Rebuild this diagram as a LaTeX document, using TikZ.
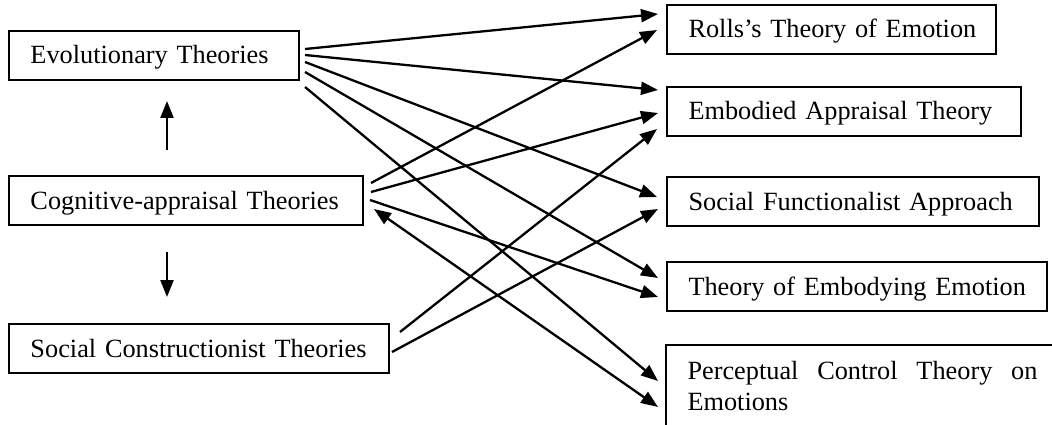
\documentclass[tikz,border=0pt]{standalone}
\usepackage{fontspec}
\setmainfont[WordSpace=0.85]{Liberation Serif}
\usetikzlibrary{arrows.meta}
\begin{document}
\begin{tikzpicture}[x=1pt,y=-1pt,
  box/.style={draw, line width=2.2pt, outer sep=0pt, inner xsep=21.5pt,
    inner ysep=0pt, minimum height=49pt, align=left, anchor=north west,
    text height=22pt, text depth=5pt,
    font=\fontsize{26.3}{31}\selectfont},
  link/.style={line width=2.3pt, -{Triangle[length=17pt,width=13pt]}},
  both/.style={line width=2.3pt, {Triangle[length=17pt,width=13pt]}-{Triangle[length=17pt,width=13pt]}}]
\useasboundingbox (0,0) rectangle (1052,425);
% theory families on the left
\node[box, text width=247pt] (evo) at (9,31) {\mbox{Evolutionary Theories}};
\node[box, text width=311pt] (cog) at (9,176) {\mbox{Cognitive-appraisal Theories}};
\node[box, text width=337pt] (soc) at (9,324) {\mbox{Social Constructionist Theories}};
% specific theories on the right
\node[box, text width=286pt] (rolls) at (667,5) {\mbox{Rolls’s Theory of Emotion}};
\node[box, text width=311pt] (emb) at (667,87) {\mbox{Embodied Appraisal Theory}};
\node[box, text width=329pt] (sf) at (667,177) {\mbox{Social Functionalist Approach}};
\node[box, text width=337pt] (tee) at (667,262) {\mbox{Theory of Embodying Emotion}};
\node[box, text width=350pt, align=justify, inner ysep=16pt, minimum height=0pt,
  text height=18pt, text depth=45pt]
  (pct) at (666,345) {Perceptual Control Theory on Emotions};
% vertical arrows between the families
\draw[link, shorten <=26pt, shorten >=21pt] (cog.north -| 167,0) -- (evo.south -| 167,0);
\draw[link, shorten <=27pt, shorten >=27pt] (cog.south -| 167,0) -- (soc.north -| 167,0);
% evolutionary theories
\draw[link] ([shift={(6,18)}]evo.north east) -- ([shift={(-9,9)}]rolls.north west);
\draw[link] ([shift={(6,24)}]evo.north east) -- ([shift={(-9,3)}]emb.north west);
\draw[link] ([shift={(6,31)}]evo.north east) -- ([shift={(-10,20)}]sf.north west);
\draw[link] ([shift={(6,41)}]evo.north east) -- ([shift={(-9,16)}]tee.north west);
\draw[link] ([shift={(6,56)}]evo.north east) -- ([shift={(-8,36)}]pct.north west);
% cognitive-appraisal theories
\draw[link] ([shift={(8,7)}]cog.north east) -- ([shift={(-10,25)}]rolls.north west);
\draw[link] ([shift={(8,16)}]cog.north east) -- ([shift={(-9,26)}]emb.north west);
\draw[link] ([shift={(7,24)}]cog.north east) -- ([shift={(-9,35)}]tee.north west);
\draw[both] ([shift={(11,33)}]cog.north east) -- ([shift={(-8,62)}]pct.north west);
% social constructionist theories
\draw[link] ([shift={(11,8)}]soc.north east) -- ([shift={(-10,42)}]emb.north west);
\draw[link] ([shift={(3,28)}]soc.north east) -- ([shift={(-9,32)}]sf.north west);
\end{tikzpicture}
\end{document}
